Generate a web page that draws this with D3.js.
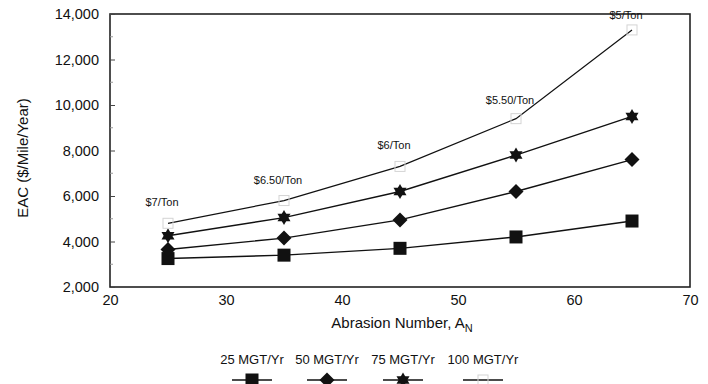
<!DOCTYPE html>
<html><head><meta charset="utf-8">
<script src="https://cdn.jsdelivr.net/npm/d3@7"></script>
<style>body{margin:0;background:#fff;} svg{display:block;font-family:"Liberation Sans",Arial,sans-serif;}</style>
</head><body>
<svg id="c" width="708" height="384"></svg>
<script>
const abrasion = [25, 35, 45, 55, 65];
const seriesNames = ["25 MGT/Yr", "50 MGT/Yr", "75 MGT/Yr", "100 MGT/Yr"];
const mgt25 = [3250, 3400, 3700, 4200, 4900];
const mgt50 = [3650, 4150, 4950, 6200, 7600];
const mgt75 = [4250, 5050, 6200, 7800, 9500];
const mgt100 = [4800, 5800, 7300, 9400, 13300];
const priceLabels = ["$7/Ton", "$6.50/Ton", "$6/Ton", "$5.50/Ton", "$5/Ton"];
const yTicks = [2000, 4000, 6000, 8000, 10000, 12000, 14000];
const xTicks = [20, 30, 40, 50, 60, 70];
const markerTypes = ["square", "diamond", "star", "open"];

const svg = d3.select("#c");
const L = 110, R = 690, T = 14, B = 287;
const x = d3.scaleLinear().domain([20, 70]).range([L, R]);
const y = d3.scaleLinear().domain([2000, 14000]).range([B, T]);

// frame
svg.append("rect").attr("x", L).attr("y", T).attr("width", R - L).attr("height", B - T)
  .attr("fill", "none").attr("stroke", "#222").attr("stroke-width", 1.6);

// y axis
const ya = svg.append("g").attr("transform", `translate(${L},0)`)
  .call(d3.axisLeft(y).tickValues(yTicks).tickFormat(d3.format(",")).tickSize(-5).tickPadding(11));
ya.select(".domain").remove();
ya.selectAll("line").attr("stroke", "#444");
ya.selectAll("text").attr("font-size", 14.5).attr("fill", "#111");
// minor ticks
svg.append("g").selectAll("line").data(d3.range(3000, 14000, 2000)).join("line")
  .attr("x1", L).attr("x2", L + 3).attr("y1", d => y(d)).attr("y2", d => y(d)).attr("stroke", "#999");

// x axis
const xa = svg.append("g").attr("transform", `translate(0,${B})`)
  .call(d3.axisBottom(x).tickValues(xTicks).tickSize(0).tickPadding(8));
xa.select(".domain").remove();
xa.selectAll("text").attr("font-size", 14.5).attr("fill", "#111");

// titles
svg.append("text").attr("transform", "translate(28,158) rotate(-90)").attr("text-anchor", "middle")
  .attr("font-size", 15).attr("fill", "#111").text("EAC ($/Mile/Year)");
const xt = svg.append("text").attr("x", 402).attr("y", 328).attr("text-anchor", "middle")
  .attr("font-size", 15).attr("fill", "#111");
xt.append("tspan").text("Abrasion Number, A");
xt.append("tspan").attr("font-size", 11).attr("dy", 4).text("N");

const series = [mgt25, mgt50, mgt75, mgt100];
const line = d3.line().x((d, i) => x(abrasion[i])).y(d => y(d));

function drawMarker(g, type, cx, cy) {
  if (type === "square") {
    g.append("rect").attr("x", cx - 6.5).attr("y", cy - 6.5).attr("width", 13).attr("height", 13).attr("fill", "#111");
  } else if (type === "diamond") {
    g.append("path").attr("d", `M${cx},${cy - 7.5}L${cx + 7.5},${cy}L${cx},${cy + 7.5}L${cx - 7.5},${cy}Z`).attr("fill", "#111");
  } else if (type === "star") {
    const s = 7.5;
    const p1 = [[0, -s], [s * 0.866, s * 0.5], [-s * 0.866, s * 0.5]];
    const p2 = [[0, s], [s * 0.866, -s * 0.5], [-s * 0.866, -s * 0.5]];
    [p1, p2].forEach(p => g.append("path")
      .attr("d", "M" + p.map(q => [cx + q[0], cy + q[1]].join(",")).join("L") + "Z").attr("fill", "#111"));
  } else {
    g.append("rect").attr("x", cx - 5).attr("y", cy - 5).attr("width", 10).attr("height", 10)
      .attr("fill", "none").attr("stroke", "#d4d4d4").attr("stroke-width", 1);
  }
}

series.forEach((vals, si) => {
  svg.append("path").datum(vals).attr("d", line).attr("fill", "none")
    .attr("stroke", "#111").attr("stroke-width", si === 3 ? 1.2 : 1.4);
  const g = svg.append("g");
  vals.forEach((v, i) => drawMarker(g, markerTypes[si], x(abrasion[i]), y(v)));
});

// price labels above top series
svg.append("g").selectAll("text").data(priceLabels).join("text")
  .attr("x", (d, i) => x(abrasion[i]) - 6)
  .attr("y", (d, i) => y(mgt100[i]) - (i === 4 ? 11 : i === 3 ? 15 : 17))
  .attr("text-anchor", "middle").attr("font-size", 11).attr("fill", "#111").text(d => d);

// legend
const legX = [252, 327, 403, 483];
const lg = svg.append("g");
seriesNames.forEach((n, i) => {
  lg.append("text").attr("x", legX[i]).attr("y", 364).attr("text-anchor", "middle")
    .attr("font-size", 13).attr("fill", "#111").text(n);
  lg.append("line").attr("x1", legX[i] - 20).attr("x2", legX[i] + 20).attr("y1", 380).attr("y2", 380)
    .attr("stroke", "#111").attr("stroke-width", 1.3);
  drawMarker(lg, markerTypes[i], legX[i], 380);
});
</script>
</body></html>
